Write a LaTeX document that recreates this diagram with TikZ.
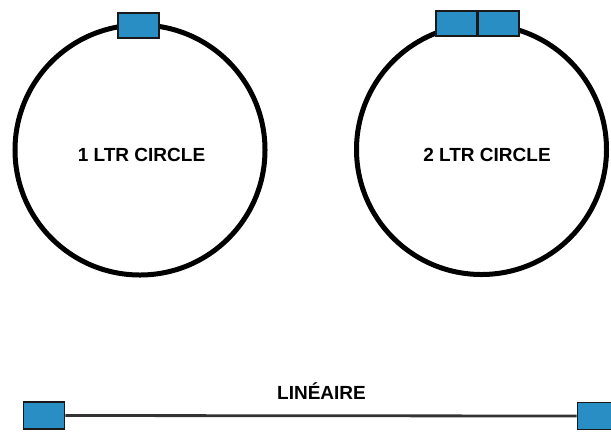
\documentclass[tikz,border=0pt]{standalone}
\usepackage{fontspec}
\setmainfont{Liberation Sans}
\definecolor{plugblue}{RGB}{40,142,196}
\begin{document}
\begin{tikzpicture}[x=1bp,y=-1bp,
  ring/.style={draw=black, line width=5bp, circle, minimum size=250bp, inner sep=0pt},
  plug/.style={draw=black!90, fill=plugblue, line width=1.8bp, minimum width=41bp, minimum height=25bp, inner sep=0pt},
  endplug/.style={plug, minimum width=41bp, minimum height=27bp},
  caption/.style={font=\fontsize{19bp}{22bp}\selectfont\bfseries, inner sep=0pt}]
  \useasboundingbox[fill=white] (0,0) rectangle (611,431);

  % one-connector ring
  \node[ring] (c1) at (140,150) {};
  \node[plug] (p1) at (138.5,25.5) {};
  \node[caption] (t1) at (141.5,155) {1 LTR CIRCLE};

  % two-connector ring
  \node[ring] (c2) at (481.5,149.5) {};
  \node[plug] (p2a) at (456.5,23.5) {};
  \node[plug] (p2b) at (498.5,23.5) {};
  \node[caption] (t2) at (487,155) {2 LTR CIRCLE};

  % straight strand with an end connector on each side
  \node[endplug] (l1) at (44,415.5) {};
  \node[endplug] (l2) at (598,416) {};
  \draw[line width=2.8bp, black!80] (l1.east) -- (l2.west);
  \node[caption] (t3) at (321.5,391) {LINÉAIRE};
\end{tikzpicture}
\end{document}
